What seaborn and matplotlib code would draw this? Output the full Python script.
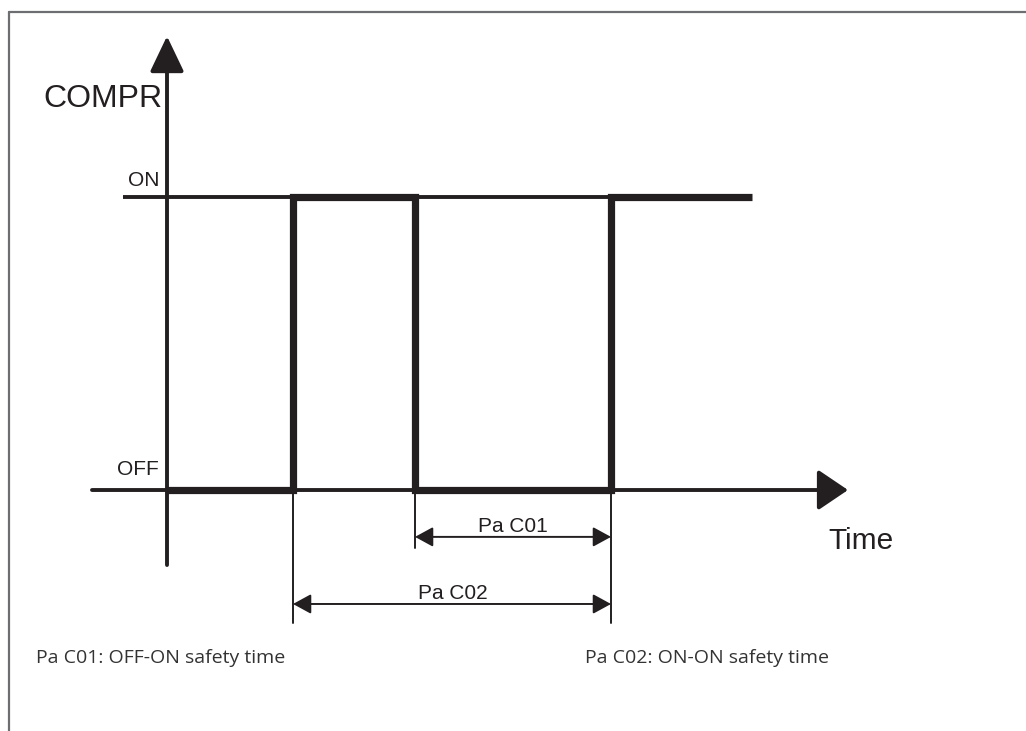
import matplotlib
matplotlib.use("Agg")
import matplotlib.pyplot as plt
import seaborn as sns
import pandas as pd

# Compressor state over time (time in arbitrary units, 0 = vertical axis)
times = [0.0, 1.26, 2.48, 4.44, 5.85]
states = [0, 1, 0, 1, 1]
level_names = ["OFF", "ON"]

# safety-time parameters: (label, start, end)
pa_c01 = ("Pa C01", 2.48, 4.44)
pa_c02 = ("Pa C02", 1.26, 4.44)
notes = ["Pa C01: OFF-ON safety time", "Pa C02: ON-ON safety time"]

data = pd.DataFrame({"time": times, "state": states})

sns.set_style("white")
ink = "#231f20"
sans = ["Liberation Sans", "DejaVu Sans"]
serif = ["Open Sans", "DejaVu Sans"]

fig = plt.figure(figsize=(10.26, 7.31), dpi=100)
ax = fig.add_axes([0, 0, 1, 1])

# page frame (top and left edge)
ax.axhline(1.631, xmin=9 / 1026, xmax=1, color="#6d6e71", lw=1.6)
ax.axvline(-1.58, ymin=0, ymax=(731 - 12) / 731, color="#6d6e71", lw=1.6)

# reference level line for ON
ax.plot([-0.44, times[3]], [1, 1], color=ink, lw=2.8, solid_capstyle="butt")

# axes with arrow heads
ax.annotate("", xy=(0, 1.549), xytext=(0, -0.256),
            arrowprops=dict(arrowstyle="-|>,head_length=2.2,head_width=1.05",
                            mutation_scale=10, color=ink, lw=2.8,
                            shrinkA=0, shrinkB=0))
ax.annotate("", xy=(6.81, 0), xytext=(-0.75, 0),
            arrowprops=dict(arrowstyle="-|>,head_length=1.85,head_width=1.25",
                            mutation_scale=10, color=ink, lw=2.8,
                            shrinkA=0, shrinkB=0))

# compressor signal
sns.lineplot(data=data, x="time", y="state", drawstyle="steps-post",
             color=ink, lw=5.2, sort=False, estimator=None, ax=ax,
             solid_joinstyle="miter", solid_capstyle="butt")
ax.set_xlim(-1.67, 8.59)
ax.set_ylim(-0.8225, 1.6724)
ax.set_axis_off()

# extension lines for the dimensions
for x, y_end in [(pa_c02[1], -0.454), (pa_c01[1], -0.198), (pa_c01[2], -0.454)]:
    ax.plot([x, x], [0, y_end], color=ink, lw=1.4)

# dimension arrows
for (label, x0, x1), y, ty, tx in [(pa_c01, -0.160, -0.143, 3.46),
                                   (pa_c02, -0.389, -0.372, 2.86)]:
    ax.annotate("", xy=(x1, y), xytext=(x0, y),
                arrowprops=dict(arrowstyle="<|-|>,head_length=1.1,head_width=0.6",
                                mutation_scale=10, color=ink, lw=1.4,
                                shrinkA=0, shrinkB=0))
    ax.text(tx, ty, label, ha="center", va="baseline", fontsize=15,
            color=ink, family=sans)

# labels
ax.text(-1.24, 1.307, "COMPR", ha="left", va="baseline", fontsize=23,
        color=ink, family=sans)
ax.text(-0.08, 1.0375, level_names[1], ha="right", va="baseline", fontsize=15,
        color=ink, family=sans)
ax.text(-0.08, 0.051, level_names[0], ha="right", va="baseline", fontsize=15,
        color=ink, family=sans)
ax.text(6.61, -0.201, "Time", ha="left", va="baseline", fontsize=21.5,
        color=ink, family=sans)

# footnotes
ax.text(-1.31, -0.592, notes[0], ha="left", va="baseline", fontsize=14,
        color="#333333", family=serif)
ax.text(4.18, -0.592, notes[1], ha="left", va="baseline", fontsize=14,
        color="#333333", family=serif)

fig.savefig("out.png", dpi=100)
